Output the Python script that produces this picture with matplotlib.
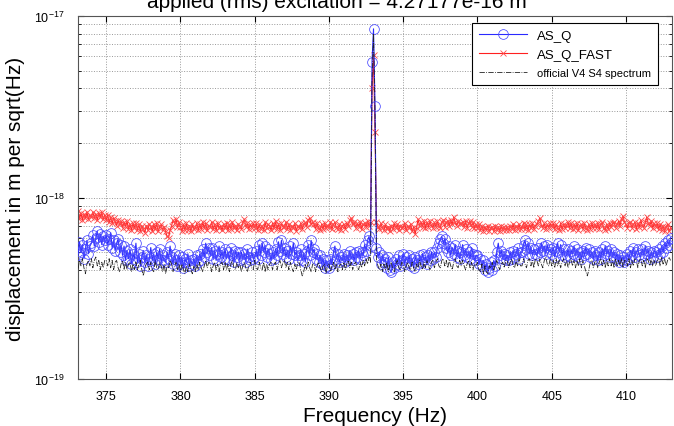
import numpy as np
import matplotlib
matplotlib.use("Agg")
import matplotlib.pyplot as plt
from matplotlib.ticker import LogLocator, NullFormatter

plt.rcParams['font.family'] = ['Liberation Sans', 'DejaVu Sans']

# Frequency bins (Hz), 0.1 Hz resolution
freq = np.round(np.arange(373.0, 413.001, 0.1), 1)

# Values in units of 1e-19 m/sqrt(Hz), one row per Hz
as_q = [
    5.3, 4.8, 5.7, 5.0, 5.5, 4.6, 5.2, 5.8, 4.9, 5.4,
    5.6, 6.2, 5.4, 6.0, 6.5, 5.7, 6.3, 5.5, 6.1, 5.8,
    6.2, 5.5, 5.9, 6.4, 5.3, 5.8, 5.1, 5.6, 5.9, 5.0,
    5.5, 4.8, 5.4, 4.5, 5.1, 4.6, 5.2, 4.3, 4.9, 4.6,
    5.6, 4.4, 4.9, 4.2, 4.7, 5.1, 4.4, 4.8, 4.2, 4.6,
    5.3, 4.5, 4.9, 4.3, 5.0, 4.6, 5.2, 4.4, 4.8, 4.5,
    4.4, 5.0, 4.6, 5.4, 4.7, 4.3, 4.9, 4.5, 4.2, 4.8,
    4.3, 4.7, 4.1, 4.6, 4.4, 4.9, 4.2, 4.5, 4.3, 4.6,
    4.2, 4.8, 4.4, 4.9, 4.5, 5.2, 4.7, 5.6, 5.0, 5.3,
    4.8, 5.3, 4.6, 5.1, 4.5, 4.9, 5.4, 4.7, 5.0, 4.6,
    5.2, 4.6, 5.0, 4.5, 5.3, 4.8, 4.4, 5.1, 4.7, 5.0,
    4.5, 5.0, 4.6, 4.9, 4.4, 5.2, 4.7, 4.5, 5.0, 4.6,
    4.7, 5.1, 4.6, 5.5, 4.8, 5.6, 5.0, 5.4, 4.7, 5.2,
    4.9, 4.5, 5.0, 4.6, 5.2, 4.8, 5.7, 5.1, 5.8, 4.9,
    5.3, 4.7, 5.1, 4.6, 5.4, 4.9, 5.6, 4.8, 5.0, 4.5,
    4.8, 5.2, 4.5, 4.9, 4.4, 5.1, 5.5, 4.8, 5.8, 5.0,
    5.2, 4.6, 4.9, 4.4, 4.8, 4.3, 4.6, 4.1, 4.5, 4.2,
    4.1, 4.6, 4.3, 5.0, 5.4, 4.6, 4.9, 4.4, 4.7, 4.5,
    4.9, 4.4, 4.8, 4.5, 5.1, 4.6, 4.9, 4.5, 5.0, 4.7,
    5.1, 4.6, 5.0, 4.8, 5.5, 5.1, 5.8, 6.1, 5.4, 56.0,
    85.0, 32.0, 5.3, 4.7, 5.0, 4.3, 4.8, 4.4, 4.6, 4.1,
    4.7, 4.0, 3.9, 4.4, 4.1, 4.6, 4.3, 4.8, 4.2, 4.5,
    4.9, 4.3, 4.7, 4.4, 4.8, 4.2, 4.6, 4.1, 4.7, 4.5,
    4.3, 4.8, 4.4, 4.9, 4.5, 4.7, 4.3, 4.8, 4.5, 5.0,
    4.6, 5.0, 4.7, 5.3, 5.6, 5.9, 6.1, 5.6, 5.9, 5.3,
    5.0, 5.4, 4.8, 5.3, 4.9, 5.5, 4.7, 5.1, 4.6, 5.0,
    5.5, 4.8, 5.2, 4.7, 5.0, 4.6, 5.3, 4.9, 4.5, 4.8,
    4.8, 4.3, 4.6, 4.2, 4.5, 4.0, 4.3, 3.9, 4.1, 4.4,
    4.0, 4.5, 4.2, 5.0, 5.6, 4.8, 5.1, 4.6, 4.9, 4.5,
    4.8, 4.5, 5.0, 4.6, 5.1, 4.7, 4.9, 5.3, 4.6, 5.0,
    5.0, 5.5, 5.8, 5.2, 5.6, 4.9, 5.3, 4.8, 5.2, 4.9,
    4.8, 5.3, 5.0, 5.6, 5.1, 5.4, 4.9, 5.5, 5.0, 5.2,
    4.9, 5.3, 4.7, 5.1, 5.6, 5.0, 5.5, 4.8, 5.2, 4.7,
    4.8, 5.2, 4.7, 5.1, 4.9, 5.4, 4.8, 5.2, 4.7, 5.0,
    4.6, 5.1, 4.8, 5.3, 4.9, 5.2, 4.7, 5.0, 4.6, 5.1,
    4.8, 4.5, 5.0, 4.6, 5.2, 4.8, 5.4, 4.9, 5.1, 4.7,
    5.2, 4.7, 5.0, 4.6, 4.9, 4.4, 4.8, 4.5, 4.7, 4.4,
    4.5, 4.9, 4.6, 5.1, 4.8, 5.3, 4.7, 5.0, 5.2, 4.8,
    4.7, 5.2, 4.8, 5.4, 4.9, 5.1, 4.6, 5.0, 4.7, 5.1,
    5.0, 4.7, 5.2, 4.9, 5.4, 5.0, 5.6, 5.3, 5.8, 5.5,
    6.0,
]

as_q_fast = [
    7.9, 8.4, 7.6, 8.2, 7.5, 8.1, 7.7, 8.3, 7.6, 8.0,
    7.8, 8.3, 7.7, 8.1, 7.5, 8.2, 7.8, 8.3, 7.6, 8.0,
    7.5, 8.0, 7.3, 7.8, 7.2, 7.7, 7.4, 7.0, 7.5, 7.1,
    7.4, 6.8, 7.3, 6.9, 7.4, 6.7, 7.1, 6.6, 7.2, 6.8,
    7.2, 6.6, 7.1, 6.5, 7.0, 6.7, 6.4, 7.0, 6.6, 7.1,
    7.0, 6.5, 7.1, 6.7, 7.2, 6.5, 6.9, 7.1, 6.6, 6.9,
    6.5, 6.1, 6.0, 6.6, 7.0, 7.5, 7.2, 7.6, 6.9, 7.3,
    6.9, 6.5, 7.1, 6.6, 7.2, 6.6, 7.0, 6.5, 7.1, 6.7,
    6.8, 7.2, 6.6, 7.1, 6.7, 7.3, 6.8, 7.2, 6.6, 7.0,
    6.9, 7.3, 6.7, 7.1, 6.6, 7.2, 6.8, 7.0, 6.6, 7.1,
    6.8, 7.2, 6.6, 7.1, 6.7, 7.3, 6.8, 7.0, 6.6, 7.1,
    7.0, 6.7, 7.3, 7.6, 6.9, 7.2, 6.7, 7.1, 6.8, 7.2,
    6.8, 7.2, 6.6, 7.1, 6.7, 7.0, 6.6, 7.3, 6.8, 7.1,
    7.0, 6.6, 7.2, 6.8, 7.4, 6.7, 7.1, 6.6, 7.2, 6.9,
    6.9, 7.3, 6.7, 7.1, 6.6, 7.0, 6.8, 7.2, 6.5, 7.0,
    6.8, 7.2, 6.7, 7.1, 7.3, 6.9, 7.5, 7.7, 7.1, 7.3,
    7.1, 6.7, 7.2, 6.8, 6.6, 7.1, 6.7, 7.2, 6.8, 7.0,
    6.9, 7.3, 6.7, 7.1, 7.3, 6.8, 6.7, 7.1, 6.6, 7.0,
    7.1, 6.7, 7.2, 7.0, 7.5, 7.7, 7.1, 7.3, 6.8, 7.2,
    6.9, 7.3, 6.7, 7.1, 7.2, 6.9, 7.4, 7.0, 7.3, 40.0,
    61.0, 23.0, 7.3, 6.9, 6.7, 7.2, 6.8, 6.6, 7.1, 6.7,
    6.9, 6.5, 7.0, 6.7, 7.2, 6.8, 7.1, 6.6, 7.0, 6.8,
    6.9, 7.2, 6.6, 7.0, 6.8, 7.1, 6.5, 6.9, 6.3, 6.8,
    7.6, 7.0, 7.3, 6.9, 7.4, 6.8, 7.3, 6.9, 7.4, 7.0,
    6.8, 7.3, 6.9, 7.4, 7.0, 6.8, 7.3, 7.5, 6.9, 7.3,
    7.4, 7.0, 7.5, 7.1, 7.8, 7.3, 7.0, 7.4, 7.1, 7.2,
    7.3, 6.9, 7.4, 6.8, 7.2, 7.4, 6.9, 7.3, 6.8, 7.1,
    6.8, 7.1, 6.6, 7.0, 6.5, 6.9, 6.6, 7.0, 6.5, 6.8,
    6.9, 6.5, 7.0, 6.6, 6.9, 6.5, 7.0, 6.6, 6.9, 6.6,
    6.9, 6.6, 7.0, 6.7, 7.1, 6.6, 7.0, 6.7, 7.1, 6.7,
    6.9, 7.2, 6.7, 7.1, 6.6, 7.1, 6.8, 7.2, 6.7, 7.0,
    7.1, 7.4, 7.7, 7.0, 6.8, 7.2, 6.7, 7.1, 6.8, 7.2,
    6.9, 7.2, 6.7, 7.1, 6.8, 6.6, 7.2, 6.7, 7.1, 6.8,
    7.0, 7.3, 6.8, 7.2, 6.7, 7.1, 6.8, 7.2, 6.6, 7.0,
    7.1, 6.7, 7.2, 6.8, 6.6, 7.1, 6.7, 7.2, 6.8, 7.1,
    6.8, 7.2, 6.7, 7.1, 7.3, 6.8, 6.6, 7.1, 6.7, 7.2,
    6.9, 7.2, 7.3, 6.8, 7.1, 7.4, 7.0, 7.6, 7.9, 7.3,
    7.1, 6.8, 7.2, 7.3, 6.8, 7.1, 7.3, 6.7, 7.2, 6.9,
    7.5, 7.0, 6.8, 7.3, 7.8, 7.2, 7.0, 7.4, 6.8, 7.2,
    6.9, 7.2, 6.7, 7.1, 6.6, 7.0, 6.5, 6.9, 7.1, 6.5,
    6.8,
]

official = [
    4.4, 4.0, 4.5, 4.2, 4.6, 4.1, 3.8, 4.3, 4.5, 4.2,
    4.6, 4.1, 4.5, 4.7, 4.2, 4.5, 4.0, 4.4, 4.1, 4.5,
    4.5, 4.2, 4.6, 4.1, 4.5, 4.0, 4.4, 4.5, 4.1, 3.9,
    4.3, 4.5, 4.0, 4.4, 4.0, 4.3, 4.4, 3.9, 4.3, 4.0,
    4.4, 4.0, 4.3, 4.5, 4.0, 3.7, 4.1, 4.3, 4.4, 4.0,
    4.4, 4.0, 3.9, 4.5, 4.1, 4.0, 4.4, 4.2, 3.9, 4.3,
    3.8, 4.2, 4.1, 4.5, 4.3, 3.9, 4.2, 4.4, 4.0, 4.3,
    3.9, 4.3, 4.0, 3.8, 4.2, 3.9, 4.3, 4.0, 3.8, 4.2,
    3.9, 4.3, 4.0, 4.4, 4.1, 3.9, 4.2, 4.5, 4.1, 4.4,
    4.3, 3.9, 4.2, 4.4, 4.0, 4.3, 3.9, 4.3, 4.4, 4.0,
    4.4, 4.0, 4.3, 3.9, 4.3, 4.5, 4.1, 4.0, 4.4, 4.1,
    4.3, 3.9, 4.2, 4.4, 4.1, 3.9, 4.2, 4.4, 4.1, 4.0,
    4.5, 4.1, 4.0, 4.4, 4.1, 4.0, 4.4, 3.9, 4.3, 4.0,
    4.3, 4.4, 4.0, 4.3, 4.4, 4.0, 4.3, 4.5, 4.1, 4.4,
    4.5, 4.1, 4.4, 4.0, 4.4, 4.1, 3.9, 4.3, 4.0, 4.4,
    4.4, 4.0, 3.7, 3.9, 4.3, 4.0, 4.4, 4.1, 3.9, 4.3,
    4.3, 3.9, 4.2, 4.4, 4.1, 3.9, 4.2, 4.3, 3.8, 4.2,
    4.3, 3.9, 4.2, 4.4, 4.0, 4.3, 3.9, 4.2, 4.3, 4.0,
    4.4, 4.0, 4.3, 4.5, 4.1, 4.4, 4.0, 4.3, 4.4, 4.1,
    4.0, 4.4, 4.1, 4.5, 4.2, 4.6, 4.3, 4.7, 4.4, 45.0,
    80.0, 30.0, 4.5, 4.2, 4.0, 4.3, 3.9, 4.3, 4.0, 4.4,
    3.9, 4.3, 4.4, 4.0, 3.9, 4.3, 4.5, 4.1, 4.0, 4.4,
    4.3, 3.9, 4.2, 4.4, 4.1, 4.0, 4.4, 4.1, 3.9, 4.3,
    4.1, 4.5, 4.2, 4.0, 4.4, 4.1, 4.5, 4.2, 4.0, 4.4,
    4.5, 4.1, 4.4, 4.6, 4.2, 4.1, 4.5, 4.6, 4.2, 4.5,
    4.1, 4.5, 4.2, 4.0, 4.4, 4.6, 4.2, 4.1, 4.5, 4.2,
    4.5, 4.2, 4.0, 4.3, 4.5, 4.1, 4.4, 4.0, 4.3, 4.2,
    4.4, 4.0, 3.9, 4.3, 3.8, 4.2, 3.9, 3.8, 4.2, 4.1,
    4.4, 4.0, 4.3, 4.5, 4.2, 4.0, 4.3, 4.4, 4.1, 4.5,
    4.5, 4.1, 4.4, 4.6, 4.2, 4.1, 4.5, 4.2, 4.6, 4.2,
    4.2, 4.6, 4.3, 4.1, 4.5, 4.6, 4.2, 4.5, 4.1, 4.6,
    4.5, 4.2, 4.6, 4.3, 4.1, 4.5, 4.7, 4.3, 4.2, 4.6,
    4.2, 4.5, 4.1, 4.6, 4.2, 4.5, 4.1, 4.4, 4.6, 4.2,
    4.5, 4.1, 4.4, 4.6, 4.2, 4.5, 4.1, 4.5, 4.2, 4.6,
    4.1, 4.5, 4.2, 3.9, 3.7, 4.0, 4.4, 4.5, 4.1, 4.4,
    4.5, 4.1, 4.4, 4.6, 4.2, 4.5, 4.1, 4.5, 4.2, 4.6,
    4.2, 4.5, 4.1, 4.6, 4.2, 4.5, 4.2, 4.6, 4.1, 4.5,
    4.5, 4.2, 4.6, 4.1, 4.5, 4.2, 4.6, 4.5, 4.1, 4.5,
    4.6, 4.2, 4.5, 4.1, 4.6, 4.5, 4.2, 4.6, 4.2, 4.5,
    4.2, 4.5, 4.6, 4.2, 4.7, 4.3, 4.6, 4.2, 4.5, 4.7,
    4.5,
]

labels = ["AS_Q", "AS_Q_FAST", "official V4 S4 spectrum"]
title = "applied (rms) excitation = 4.27177e-16 m"
xticks = [375, 380, 385, 390, 395, 400, 405, 410]

scale = 1e-19
y_q = np.array(as_q) * scale
y_fast = np.array(as_q_fast) * scale
y_off = np.array(official) * scale

fig = plt.figure(figsize=(6.74, 4.27), dpi=100)
ax = fig.add_axes([78 / 674, 1 - 380 / 427, (672 - 78) / 674, (380 - 17) / 427])

ax.plot(freq, y_q, color="#2a2aff", lw=0.8, marker="o", ms=7,
        mfc="none", mec="#4848ff", mew=0.55, label=labels[0], zorder=3)
ax.plot(freq, y_fast, color="#ff2020", lw=0.8, marker="x", ms=5,
        mec="#ff4848", mew=0.6, label=labels[1], zorder=2)
ax.plot(freq, y_off, color="#222222", lw=0.6, ls="-.", label=labels[2], zorder=4)

ax.set_yscale("log")
ax.set_ylim(1e-19, 1e-17)
ax.set_xlim(373.1, 413.1)
ax.set_xticks(xticks)
ax.set_xticklabels([str(t) for t in xticks])
ax.yaxis.set_major_locator(LogLocator(base=10, numticks=5))
ax.yaxis.set_minor_locator(LogLocator(base=10, subs=np.arange(2, 10), numticks=20))
ax.yaxis.set_minor_formatter(NullFormatter())

ax.grid(True, which="major", axis="both", ls=":", color="#999999", lw=0.7)
ax.yaxis.grid(True, which="minor", ls=":", color="#999999", lw=0.7)

ax.tick_params(which="both", direction="in", top=True, right=True, labelsize=9)
ax.tick_params(which="major", length=4)
ax.tick_params(which="minor", length=2)
ax.tick_params(axis="x", pad=8)
ax.tick_params(axis="y", pad=10)
for s in ax.spines.values():
    s.set_color("#555555")
    s.set_linewidth(0.8)

ax.set_xlabel("Frequency (Hz)", fontsize=15, labelpad=3)
ax.set_ylabel("displacement in m per sqrt(Hz)", fontsize=15, labelpad=6)

fig.text(0.5, 1 - 2 / 427, title, ha="center", va="center", fontsize=15)

leg = ax.legend(loc="upper right", bbox_to_anchor=(0.976, 0.981), fontsize=9.5,
                handlelength=3.6, frameon=True, fancybox=False, framealpha=1,
                edgecolor="black", borderpad=0.5, labelspacing=0.5,
                borderaxespad=0)
leg.get_frame().set_linewidth(0.8)
leg.get_texts()[2].set_fontsize(8)

fig.savefig("out.png", dpi=100)
